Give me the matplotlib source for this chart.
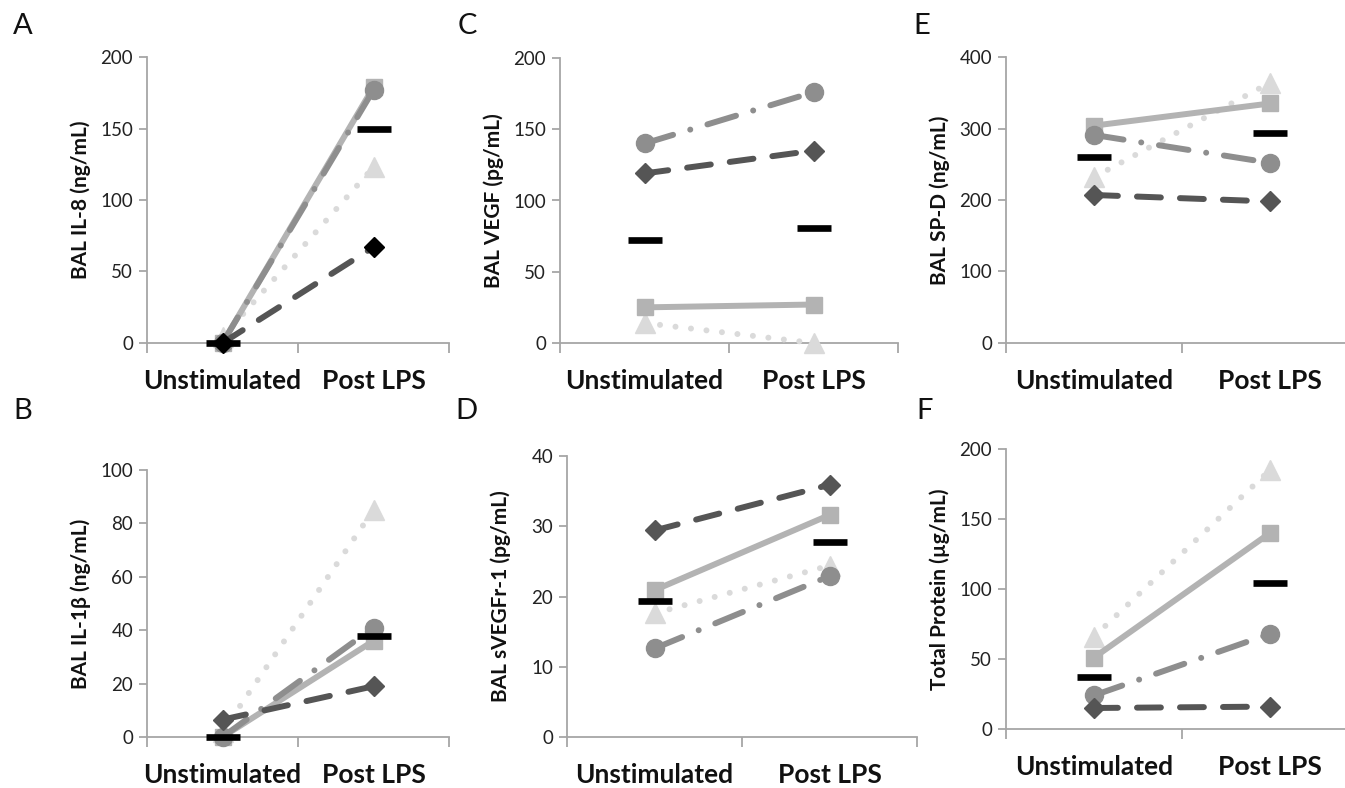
import matplotlib
matplotlib.use("Agg")
import matplotlib.pyplot as plt

# categories on the x axis
categories = ["Unstimulated", "Post LPS"]

# A: BAL IL-8 (ng/mL)
il8_square = [0, 179]
il8_circle = [0, 177]
il8_triangle = [4, 123]
il8_diamond = [0, 67]
il8_mean = [0, 150]

# B: BAL IL-1beta (ng/mL)
il1b_square = [0, 36]
il1b_circle = [0, 41]
il1b_triangle = [2, 85]
il1b_diamond = [6.5, 19]
il1b_mean = [0, 38]

# C: BAL VEGF (pg/mL)
vegf_square = [25, 27]
vegf_circle = [140, 176]
vegf_triangle = [14, 0]
vegf_diamond = [119, 135]
vegf_mean = [72, 81]

# D: BAL sVEGFr-1 (pg/mL)
svegfr_square = [20.9, 31.6]
svegfr_circle = [12.6, 22.9]
svegfr_triangle = [17.6, 24.4]
svegfr_diamond = [29.4, 35.9]
svegfr_mean = [19.4, 27.8]

# E: BAL SP-D (ng/mL)
spd_square = [304, 335]
spd_circle = [291, 252]
spd_triangle = [232, 364]
spd_diamond = [207, 198]
spd_mean = [260, 294]

# F: Total protein (ug/mL)
prot_square = [51, 140]
prot_circle = [24, 68]
prot_triangle = [66, 185]
prot_diamond = [15, 16]
prot_mean = [37, 104]

panels = [
    ("A", "BAL IL-8 (ng/mL)", 200, 50, (147, 57, 449, 343),
     il8_square, il8_circle, il8_triangle, il8_diamond, il8_mean),
    ("C", "BAL VEGF (pg/mL)", 200, 50, (560, 58, 898, 343),
     vegf_square, vegf_circle, vegf_triangle, vegf_diamond, vegf_mean),
    ("E", "BAL SP-D (ng/mL)", 400, 100, (1006, 57, 1358, 343),
     spd_square, spd_circle, spd_triangle, spd_diamond, spd_mean),
    ("B", "BAL IL-1\u03b2 (ng/mL)", 100, 20, (147, 470, 449, 737),
     il1b_square, il1b_circle, il1b_triangle, il1b_diamond, il1b_mean),
    ("D", "BAL sVEGFr-1 (pg/mL)", 40, 10, (567, 456, 917, 737),
     svegfr_square, svegfr_circle, svegfr_triangle, svegfr_diamond, svegfr_mean),
    ("F", "Total Protein (\u00b5g/mL)", 200, 50, (1006, 449, 1358, 729),
     prot_square, prot_circle, prot_triangle, prot_diamond, prot_mean),
]

letter_pos = {"A": (23, 26), "C": (467, 26), "E": (922, 26),
              "B": (23, 411), "D": (466, 411), "F": (925, 411)}

plt.rcParams["font.family"] = ["Lato", "DejaVu Sans"]

W, H = 1345, 788
fig = plt.figure(figsize=(W / 100, H / 100), dpi=100)

sq_col = "#b3b3b3"
ci_col = "#8e8e8e"
tr_col = "#dadada"
di_col = "#555555"
spine_col = "#a6a6a6"
lw = 4.3
x = [0.5, 1.5]

for (letter, ylabel, ymax, ystep, rect,
     sq, ci, tr, di, mean) in panels:
    l, t, r, b = rect
    ax = fig.add_axes([l / W, 1 - b / H, (r - l) / W, (b - t) / H])
    ax.set_xlim(0, 2)
    ax.set_ylim(0, ymax)

    ax.plot(x, tr, color=tr_col, lw=lw, ls=(0, (0.01, 2.6)),
            dash_capstyle="round", marker="^", ms=14, mec=tr_col,
            mfc=tr_col, clip_on=False, zorder=3)
    ax.plot(x, sq, color=sq_col, lw=lw, ls="-", marker="s", ms=12,
            mec=sq_col, mfc=sq_col, clip_on=False, zorder=4)
    ax.plot(x, ci, color=ci_col, lw=lw, ls=(0, (5, 3, 0.01, 3)),
            dash_capstyle="round", marker="o", ms=13, mec=ci_col,
            mfc=ci_col, clip_on=False, zorder=5)
    dmc = "black" if letter == "A" else di_col
    ax.plot(x, di, color=di_col, lw=lw, ls=(0, (4, 3.2)),
            dash_capstyle="round", marker="D", ms=10, mec=dmc,
            mfc=dmc, clip_on=False, zorder=6)
    ax.plot(x, mean, ls="none", marker="_", ms=24, mew=4.8,
            color="black", clip_on=False, zorder=7)

    for side in ("top", "right"):
        ax.spines[side].set_visible(False)
    for side in ("left", "bottom"):
        ax.spines[side].set_color(spine_col)
        ax.spines[side].set_linewidth(1.3)

    ax.set_yticks(range(0, ymax + 1, ystep))
    ax.tick_params(axis="y", direction="out", length=6, width=1.3,
                   color=spine_col, labelsize=13.5, labelcolor="#222222",
                   pad=4)
    ax.set_xticks([0, 1, 2])
    ax.set_xticklabels(["", "", ""])
    ax.tick_params(axis="x", which="major", direction="out", length=7,
                   width=1.3, color=spine_col)
    ax.set_xticks(x, minor=True)
    ax.set_xticklabels(categories, minor=True, fontsize=19,
                       fontweight="bold", color="#111111")
    ax.tick_params(axis="x", which="minor", length=0, pad=18.5)

    ax.set_ylabel(ylabel, fontsize=15, fontweight="bold", color="#111111")
    ax.yaxis.set_label_coords(-56 / (r - l), 0.5)

    lx, ly = letter_pos[letter]
    fig.text(lx / W, 1 - ly / H, letter, fontsize=21, ha="center",
             va="center", color="#111111")

fig.savefig("out.png", dpi=100)
